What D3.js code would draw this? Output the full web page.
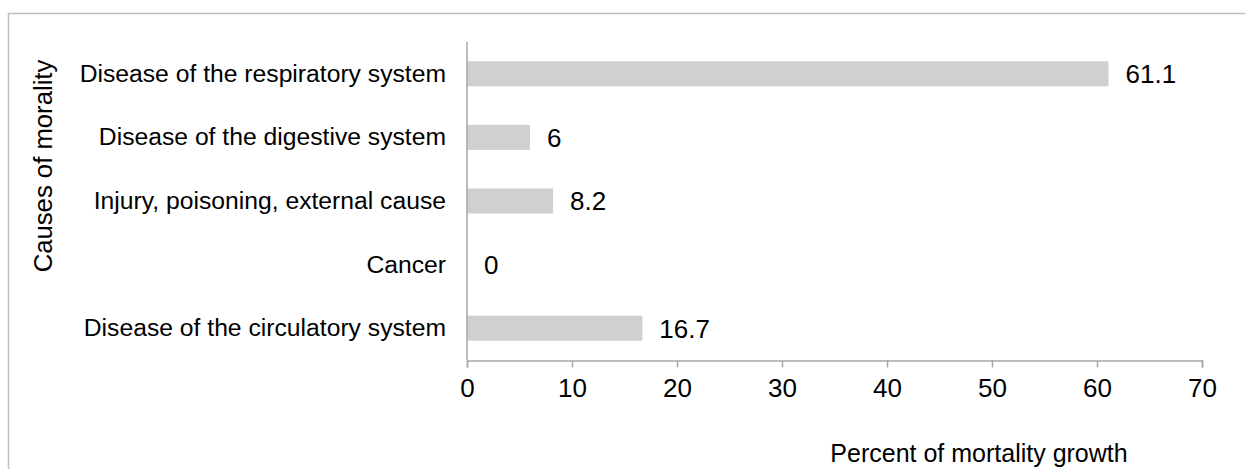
<!DOCTYPE html>
<html>
<head>
<meta charset="utf-8">
<script src="https://cdn.jsdelivr.net/npm/d3@7"></script>
<style>
  body { margin: 0; background: #fff; }
  svg { font-family: "Liberation Sans", Arial, sans-serif; }
</style>
</head>
<body>
<svg width="1245" height="469"></svg>
<script>
// categories, top to bottom
var causes = [
  "Disease of the respiratory system",
  "Disease of the digestive system",
  "Injury, poisoning, external cause",
  "Cancer",
  "Disease of the circulatory system"
];
var growth = [61.1, 6, 8.2, 0, 16.7];
var xTicks = [0, 10, 20, 30, 40, 50, 60, 70];

var svg = d3.select("svg");

// outer frame (only top and left visible)
svg.append("path")
  .attr("d", "M8.5,469 V13.5 H1245")
  .attr("fill", "none")
  .attr("stroke", "#bfbfbf")
  .attr("stroke-width", 1.5);

var x = d3.scaleLinear().domain([0, 70]).range([467, 1202]);
var y = d3.scaleBand().domain(causes).range([42, 360]).paddingInner(0.6).paddingOuter(0.3);

var data = causes.map(function(c, i) { return {cause: c, value: growth[i]}; });

svg.selectAll("rect.bar")
  .data(data).enter()
  .append("rect")
  .attr("class", "bar")
  .attr("x", x(0))
  .attr("y", function(d) { return y(d.cause) + y.bandwidth() / 2 - 12.5; })
  .attr("width", function(d) { return x(d.value) - x(0); })
  .attr("height", 25)
  .attr("fill", "#d0d0d0");

// value labels
svg.selectAll("text.val")
  .data(data).enter()
  .append("text")
  .attr("class", "val")
  .attr("x", function(d) { return x(d.value) + 17; })
  .attr("y", function(d) { return y(d.cause) + y.bandwidth() / 2; })
  .attr("dy", "0.36em")
  .attr("font-size", 26)
  .attr("fill", "#000")
  .text(function(d) { return d.value; });

// x axis
var xAxis = svg.append("g")
  .attr("transform", "translate(0,360.5)")
  .call(d3.axisBottom(x).tickValues(xTicks).tickSize(7).tickPadding(11).tickFormat(d3.format("d")));
xAxis.select(".domain").attr("stroke", "#a6a6a6").attr("stroke-width", 1.5);
xAxis.selectAll(".tick line").attr("stroke", "#a6a6a6").attr("stroke-width", 1.5);
xAxis.selectAll(".tick text").attr("font-size", 26).attr("fill", "#000")
  .attr("font-family", "Liberation Sans, Arial, sans-serif");

// y axis
var yAxis = svg.append("g")
  .attr("transform", "translate(467,0)")
  .call(d3.axisLeft(y).tickSize(0).tickPadding(21));
yAxis.select(".domain").remove();
yAxis.append("line")
  .attr("x1", 0).attr("x2", 0).attr("y1", 42).attr("y2", 360)
  .attr("stroke", "#a6a6a6").attr("stroke-width", 1.5);
yAxis.selectAll(".tick text").attr("font-size", 24.7).attr("fill", "#000")
  .attr("font-family", "Liberation Sans, Arial, sans-serif");

// axis titles
svg.append("text")
  .attr("x", 979).attr("y", 462)
  .attr("text-anchor", "middle")
  .attr("font-size", 25)
  .text("Percent of mortality growth");

svg.append("text")
  .attr("transform", "translate(43,166) rotate(-90)")
  .attr("dy", "0.36em")
  .attr("text-anchor", "middle")
  .attr("font-size", 25.7)
  .text("Causes of morality");
</script>
</body>
</html>
